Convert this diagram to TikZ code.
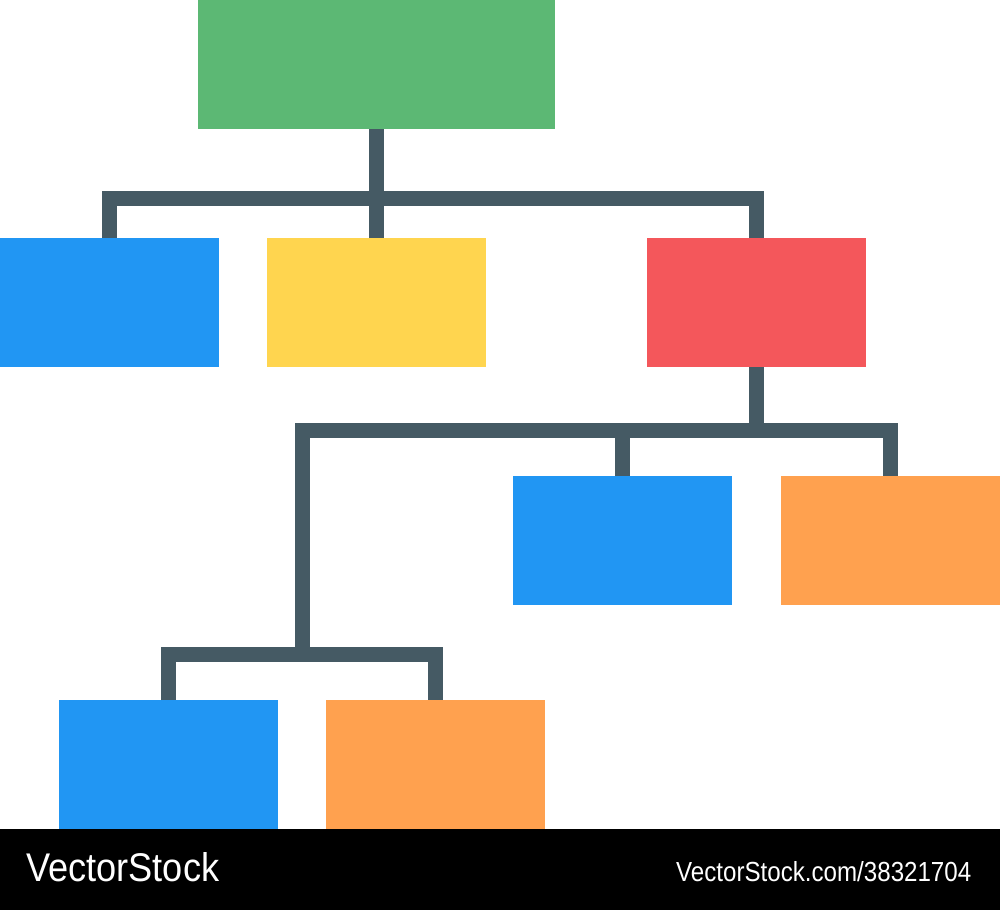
\documentclass[tikz,border=0pt]{standalone}
\usepackage{fontspec}
\setmainfont{Liberation Sans}
\usepackage{graphicx}
\definecolor{cgreen}{HTML}{5CB874}
\definecolor{cblue}{HTML}{2196F3}
\definecolor{cyellow}{HTML}{FFD54F}
\definecolor{cred}{HTML}{F4575B}
\definecolor{corange}{HTML}{FFA14F}
\definecolor{cline}{HTML}{455A64}
\begin{document}
\begin{tikzpicture}[x=1pt,y=-1pt,
  box/.style={minimum width=219pt,minimum height=129pt,inner sep=0pt,outer sep=0pt,anchor=north west},
  link/.style={draw=cline,line width=15pt,line join=miter,line cap=butt},
  wm/.style={text=white,inner sep=0pt,anchor=base west}]
\useasboundingbox (0,0) rectangle (1000,910);
\fill[black] (0,829) rectangle (1000,910);
% boxes
\node[box,fill=cgreen,minimum width=357pt] (root) at (198,0) {};
\node[box,fill=cblue] (a) at (0,238) {};
\node[box,fill=cyellow] (b) at (267,238) {};
\node[box,fill=cred] (c) at (647,238) {};
\node[box,fill=cblue] (d) at (513,476) {};
\node[box,fill=corange] (e) at (781,476) {};
\node[box,fill=cblue] (f) at (59,700) {};
\node[box,fill=corange] (g) at (326,700) {};
% junction coordinates
\coordinate (j1) at (root.south |- 0,198);
\coordinate (j2) at (c.south |- 0,430);
\coordinate (j3) at (302,654);
\coordinate (j4) at (d.north |- 0,430);
% connectors
\draw[link] (root.south) -- (b.north);
\draw[link] (a.north) |- (j1) -| (c.north);
\draw[link] (c.south) -- (j2);
\draw[link] (j3) |- (j2) -| (e.north);
\draw[link] (d.north) -- (j4);
\draw[link] (f.north) |- (j3) -| (g.north);
% watermark
\node[wm] (w1) at (26,881) {\resizebox{193pt}{29pt}{VectorStock}};
\node[wm] (w2) at (676,881) {\resizebox{295pt}{20pt}{VectorStock.com/38321704}};
\end{tikzpicture}
\end{document}
